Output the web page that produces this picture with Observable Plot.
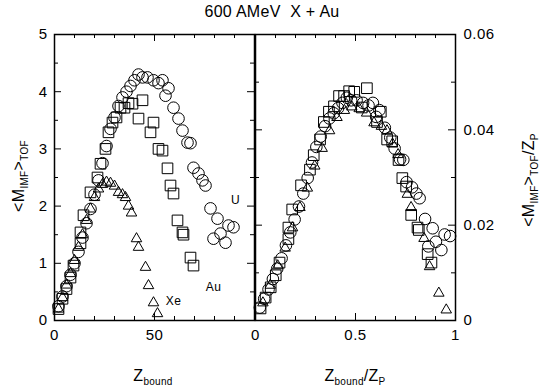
<!DOCTYPE html>
<html><head><meta charset="utf-8">
<script src="https://cdn.jsdelivr.net/npm/d3@7"></script>
<script src="https://cdn.jsdelivr.net/npm/@observablehq/plot@0.6"></script>
<style>
body{margin:0;background:#fff;}
#c{position:relative;width:545px;height:389px;font-family:"Liberation Sans",Arial,sans-serif;color:#000;overflow:hidden;}
#c svg{position:absolute;left:0;top:0;background:transparent;}
.lab{position:absolute;white-space:nowrap;font-size:16px;line-height:1;letter-spacing:0.3px;}
.lab sub{font-size:10px;vertical-align:-4px;line-height:0;}
</style></head><body><div id="c"></div>
<script>
// ---- data ----
const projectiles = ["U", "Au", "Xe"];
const projectileZ = [92, 79, 54];
const symbols = ["circle", "square", "triangle"];

const Z_U = [2,4,6,8,10,12,14,16,18,20,22,24,26,28,30,32,34,36,38,40,42,44,46.5,49.5,52,54,55.5,57,59.5,62,64,66.5,68,69.5,72,74,75.5,78,79.5,81.5,85.5,83,87,89.5];
const M_U = [0.25,0.42,0.6,0.8,1.0,1.2,1.45,1.7,1.95,2.2,2.45,2.75,3.05,3.35,3.55,3.75,3.9,4.0,4.1,4.2,4.3,4.25,4.25,4.2,4.15,4.2,3.93,4.06,3.72,3.53,3.32,3.11,3.1,2.67,2.57,2.45,2.36,1.96,1.43,1.78,1.36,1.52,1.66,1.63];

const Z_Au = [2,4,6,8,9.5,13,13,14.5,18,21.5,23,25.5,27,29,31,33,35,37,39,42,44,48,49.5,52,54,56.5,58,59.5,61.5,64,64.5,68,69.5];
const M_Au = [0.2,0.38,0.55,0.75,0.96,1.35,1.54,1.84,2.24,2.5,2.74,3.0,3.29,3.46,3.55,3.72,3.72,3.8,3.79,3.53,3.85,3.29,3.46,3.0,2.97,2.66,2.36,2.22,1.75,1.54,1.5,1.1,0.96];

const Z_Xe = [2,4,6,8,10,12,14,16,18,20,22,24,26,28,30,32,34,35.5,37,38.5,41,42,45.5,47,49.5,51.5];
const M_Xe = [0.2,0.4,0.62,0.82,1.05,1.28,1.5,1.75,1.95,2.15,2.3,2.38,2.42,2.4,2.35,2.24,2.2,2.15,2.0,1.88,1.43,1.28,0.93,0.61,0.31,0.12];

const seriesZ = [Z_U, Z_Au, Z_Xe];
const seriesM = [M_U, M_Au, M_Xe];

// in-plot labels (left panel, data coordinates)
const noteText = ["U", "Au", "Xe"];
const noteZ = [90.5, 79.5, 59.5];
const noteM = [2.1, 0.58, 0.33];

// axis ticks
const leftXTicks = [0, 50];
const rightXTicks = [0, 0.5, 1];
const leftYTicks = [0, 1, 2, 3, 4, 5];
const rightYTicks = [0, 0.02, 0.04, 0.06];

// ---- layout ----
const W = 545, H = 389, MT = 34, MB = 69;
const PH = H - MT - MB, PW = 200;

const rows = [];
projectiles.forEach((p, i) => {
  seriesZ[i].forEach((z, j) => {
    rows.push({p, sym: symbols[i], z, m: seriesM[i][j], zn: z / projectileZ[i], mn: seriesM[i][j] / projectileZ[i]});
  });
});
const notes = noteText.map((t, i) => ({t, z: noteZ[i], m: noteM[i]}));

const sizes = {circle: 5.8, square: 6.0, triangle: 3.9};
const fontStyle = {fontFamily: '"Liberation Sans", Arial, sans-serif', fontSize: "15px", letterSpacing: "0.5px", color: "black", background: "transparent", overflow: "visible"};

function tickMarks(xMaj, xMin, yMaj, yMin) {
  const L = 7, S = 4, o = {stroke: "black", strokeWidth: 1};
  const f = d => d;
  return [
    Plot.tickX(xMaj, {...o, x: f, insetTop: PH - L}),
    Plot.tickX(xMaj, {...o, x: f, insetBottom: PH - L}),
    Plot.tickX(xMin, {...o, x: f, insetTop: PH - S}),
    Plot.tickX(xMin, {...o, x: f, insetBottom: PH - S}),
    Plot.tickY(yMaj, {...o, y: f, insetRight: PW - L}),
    Plot.tickY(yMaj, {...o, y: f, insetLeft: PW - L}),
    Plot.tickY(yMin, {...o, y: f, insetRight: PW - S}),
    Plot.tickY(yMin, {...o, y: f, insetLeft: PW - S})
  ];
}

function dots(xk, yk) {
  return projectiles.map((p, i) => Plot.dot(rows.filter(r => r.p === p), {
    x: xk, y: yk, symbol: symbols[i], r: sizes[symbols[i]], stroke: "black", fill: "none", strokeWidth: 1
  }));
}

const left = Plot.plot({
  width: W, height: H, marginLeft: 54, marginRight: W - 254, marginTop: MT, marginBottom: MB,
  style: fontStyle,
  x: {domain: [0, 100]},
  y: {domain: [0, 5]},
  marks: [
    ...dots("z", "m"),
    Plot.text(notes, {x: "z", y: "m", text: "t", fontSize: 12, fill: "black"}),
    ...tickMarks([0, 50, 100], [10, 20, 30, 40, 60, 70, 80, 90], leftYTicks, [0.5, 1.5, 2.5, 3.5, 4.5]),
    Plot.axisX({ticks: leftXTicks, tickSize: 0, tickPadding: 9, label: null, fontSize: 15, tickFormat: d => String(d)}),
    Plot.axisY({ticks: leftYTicks, tickSize: 0, tickPadding: 7, label: null, fontSize: 15, tickFormat: d => String(d)}),
    Plot.frame({stroke: "black", strokeWidth: 1.5})
  ]
});

const right = Plot.plot({
  width: W, height: H, marginLeft: 255, marginRight: W - 455, marginTop: MT, marginBottom: MB,
  style: fontStyle,
  x: {domain: [0, 1]},
  y: {domain: [0, 0.06]},
  marks: [
    ...dots("zn", "mn"),
    ...tickMarks([0, 0.5, 1], [0.1, 0.2, 0.3, 0.4, 0.6, 0.7, 0.8, 0.9], rightYTicks, [0.01, 0.03, 0.05]),
    Plot.axisX({ticks: rightXTicks, tickSize: 0, tickPadding: 9, label: null, fontSize: 15, tickFormat: d => String(d)}),
    Plot.axisY({anchor: "right", ticks: rightYTicks, tickSize: 0, tickPadding: 8, label: null, fontSize: 15,
      tickFormat: d => d === 0 ? "0" : d.toFixed(2)}),
    Plot.frame({stroke: "black", strokeWidth: 1.5})
  ]
});

const c = document.getElementById("c");
c.appendChild(left);
c.appendChild(right);

function addLabel(html, cx, cy, rot) {
  const d = document.createElement("div");
  d.className = "lab";
  d.innerHTML = html;
  d.style.left = cx + "px";
  d.style.top = cy + "px";
  d.style.transform = "translate(-50%,-50%)" + (rot ? " rotate(-90deg)" : "");
  c.appendChild(d);
}
addLabel("600 AMeV&nbsp;&nbsp;X + Au", 272, 12, false);
addLabel("Z<sub>bound</sub>", 153, 376, false);
addLabel("Z<sub>bound</sub>/Z<sub>P</sub>", 355, 376, false);
addLabel("&lt;M<sub>IMF</sub>&gt;<sub>TOF</sub>", 19, 176, true);
addLabel("&lt;M<sub>IMF</sub>&gt;<sub>TOF</sub>/Z<sub>P</sub>", 529, 180, true);
</script>
</body></html>
